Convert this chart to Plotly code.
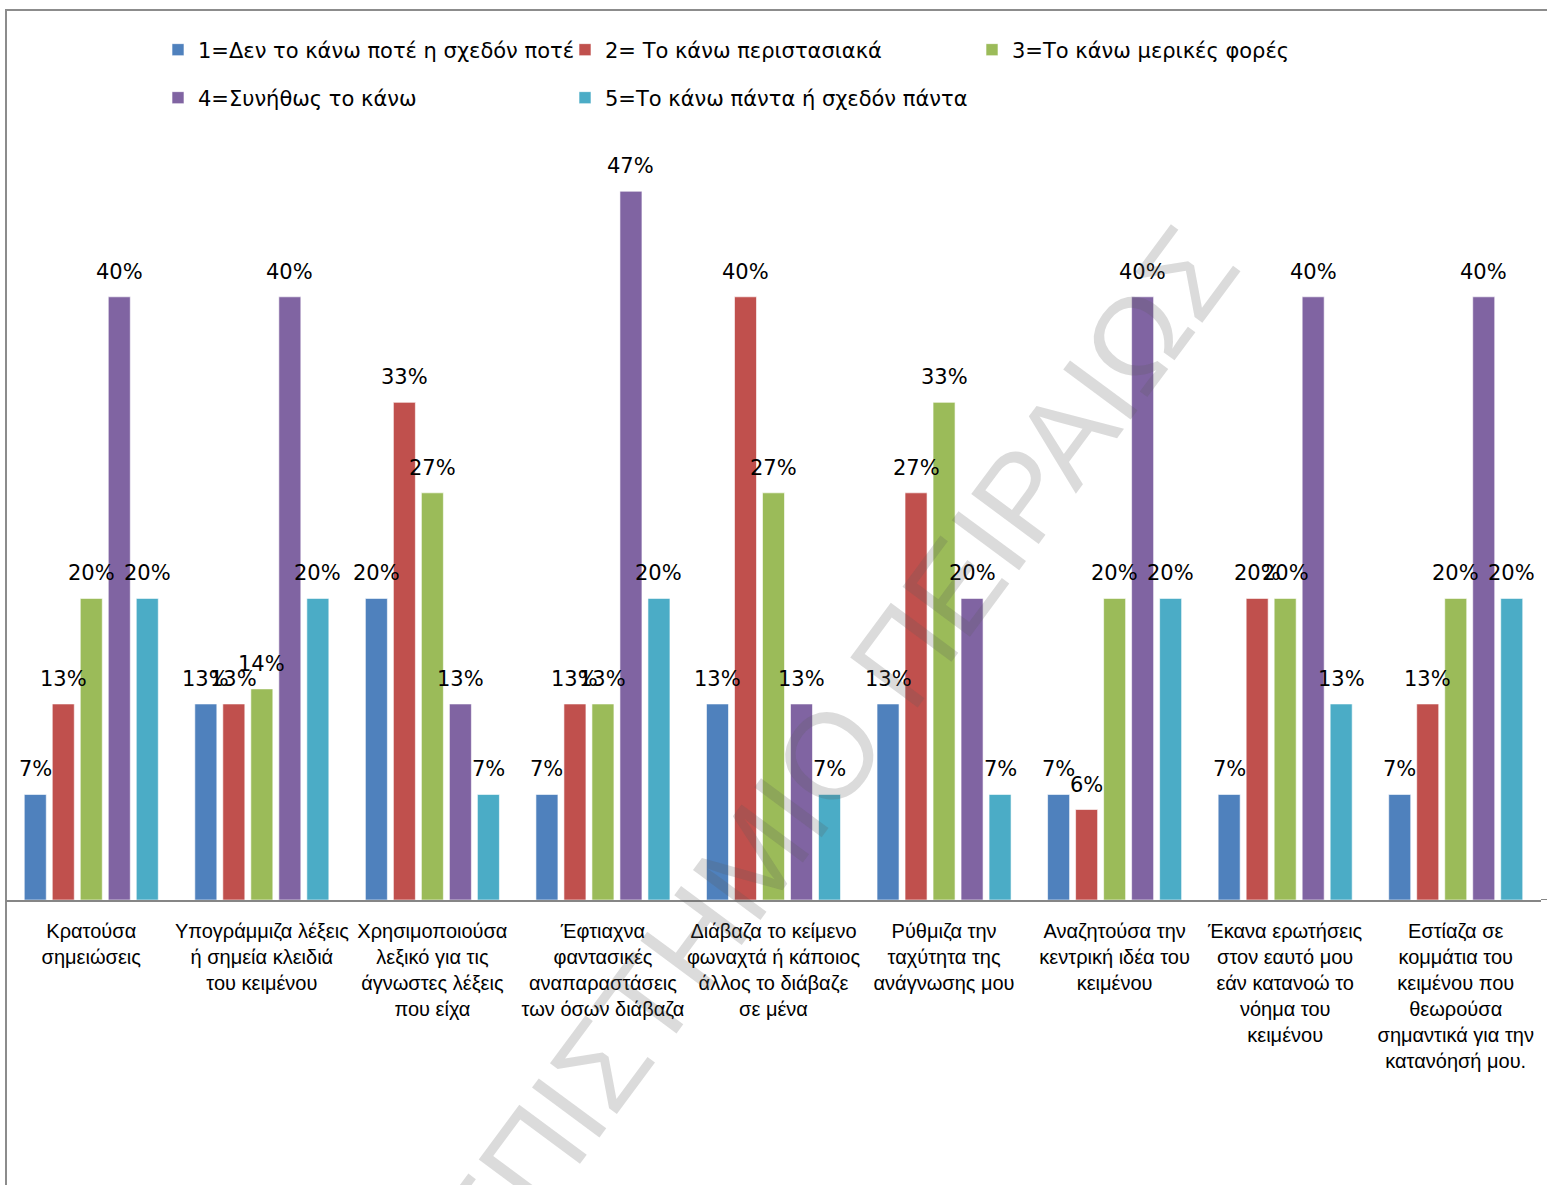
import plotly.graph_objects as go

categories = [
    "Κρατούσα<br>σημειώσεις",
    "Υπογράμμιζα λέξεις<br>ή σημεία κλειδιά<br>του κειμένου",
    "Χρησιμοποιούσα<br>λεξικό για τις<br>άγνωστες λέξεις<br>που είχα",
    "Έφτιαχνα<br>φαντασικές<br>αναπαραστάσεις<br>των όσων διάβαζα",
    "Διάβαζα το κείμενο<br>φωναχτά ή κάποιος<br>άλλος το διάβαζε<br>σε μένα",
    "Ρύθμιζα την<br>ταχύτητα της<br>ανάγνωσης μου",
    "Αναζητούσα την<br>κεντρική ιδέα του<br>κειμένου",
    "Έκανα ερωτήσεις<br>στον εαυτό μου<br>εάν κατανοώ το<br>νόημα του<br>κειμένου",
    "Εστίαζα σε<br>κομμάτια του<br>κειμένου που<br>θεωρούσα<br>σημαντικά για την<br>κατανόησή μου.",
]

series_names = [
    "1=Δεν το κάνω ποτέ η σχεδόν ποτέ",
    "2= Το κάνω περιστασιακά",
    "3=Το κάνω μερικές φορές",
    "4=Συνήθως το κάνω",
    "5=Το κάνω πάντα ή σχεδόν πάντα",
]

s1_never = [7, 13, 20, 7, 13, 13, 7, 7, 7]
s2_occasionally = [13, 13, 33, 13, 40, 27, 6, 20, 13]
s3_sometimes = [20, 14, 27, 13, 27, 33, 20, 20, 20]
s4_usually = [40, 40, 13, 47, 13, 20, 40, 40, 40]
s5_always = [20, 20, 7, 20, 7, 7, 20, 13, 20]

series_values = [s1_never, s2_occasionally, s3_sometimes, s4_usually, s5_always]
colors = ["#4F81BD", "#C0504D", "#9BBB59", "#8064A2", "#4BACC6"]

W, H = 1547, 1185
ML, MR, MT, MB = 6, 6, 146, 285
BARGAP, BARGROUPGAP = 0.179, 0.214
plot_w = W - ML - MR
plot_h = H - MT - MB
slot = (1 - BARGAP) * plot_w / len(categories) / len(series_values)

FONT = "DejaVu Sans"
TICK_FONT = "Liberation Sans"


def py(p):
    return (H - MB - p) / plot_h


def px_(p):
    return (p - ML) / plot_w


fig = go.Figure()
for i, (name, vals, col) in enumerate(zip(series_names, series_values, colors)):
    fig.add_trace(go.Bar(
        x=categories, y=vals, name=name,
        marker=dict(color=col, line=dict(color="rgba(255,255,255,0.6)", width=1)),
        legend="legend" if i < 3 else "legend2",
        hoverinfo="skip",
    ))

annotations = []
n = len(series_values)
for i, vals in enumerate(series_values):
    for cat, v in zip(categories, vals):
        annotations.append(dict(
            x=cat, y=v, xref="x", yref="y", text=f"{v}%", showarrow=False,
            xshift=(i - (n - 1) / 2) * slot, yshift=11, yanchor="bottom",
            font=dict(family=FONT, size=21, color="#000000"),
        ))

annotations.append(dict(
    x=px_(757), y=py(854), xref="paper", yref="paper",
    xanchor="center", yanchor="middle",
    text="ΠΑΝΕΠΙΣΤΗΜΙΟ ΠΕΙΡΑΙΩΣ", showarrow=False, textangle=-53.5,
    font=dict(family="Liberation Sans", size=122, color="rgba(90,90,90,0.22)"),
))

fig.update_layout(
    width=W, height=H,
    margin=dict(l=ML, r=MR, t=MT, b=MB),
    paper_bgcolor="white", plot_bgcolor="white",
    barmode="group", bargap=BARGAP, bargroupgap=BARGROUPGAP,
    font=dict(family=FONT, color="#000000"),
    showlegend=True,
    legend=dict(orientation="h", x=px_(158), xanchor="left", y=py(50), yanchor="middle",
                font=dict(family=FONT, size=21), entrywidth=362, entrywidthmode="pixels",
                bgcolor="rgba(0,0,0,0)", itemclick=False),
    legend2=dict(orientation="h", x=px_(158), xanchor="left", y=py(98), yanchor="middle",
                 font=dict(family=FONT, size=21), entrywidth=362, entrywidthmode="pixels",
                 bgcolor="rgba(0,0,0,0)", itemclick=False),
    xaxis=dict(showline=True, linecolor="#868686", linewidth=2, ticks="", tickangle=0,
               tickfont=dict(family=TICK_FONT, size=20, color="#000000"),
               showgrid=False, zeroline=False, fixedrange=True, ticklabelstandoff=12),
    yaxis=dict(range=[0, 50], visible=False, fixedrange=True),
    annotations=annotations,
    shapes=[
        dict(type="rect", xref="paper", yref="paper", x0=0, x1=1.05,
             y0=-0.5, y1=py(10), line=dict(color="#8C8C8C", width=2), layer="below"),
        dict(type="line", xref="paper", yref="y", x0=1, x1=1.01, y0=0, y1=0,
             line=dict(color="#868686", width=2), layer="below"),
    ],
)

fig.write_html("out.html")
